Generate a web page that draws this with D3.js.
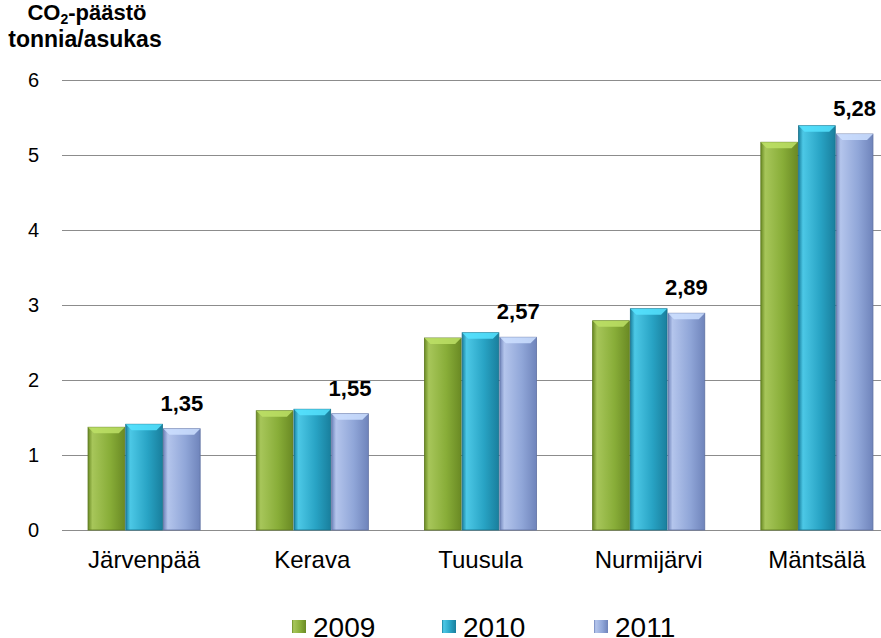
<!DOCTYPE html>
<html>
<head>
<meta charset="utf-8">
<script src="https://cdn.jsdelivr.net/npm/d3@7"></script>
<style>
  body { margin: 0; background: #fff; }
  svg { display: block; font-family: "Liberation Sans", Arial, sans-serif; }
</style>
</head>
<body>
<script>
// data
const towns = ["Järvenpää", "Kerava", "Tuusula", "Nurmijärvi", "Mäntsälä"];
const years = ["2009", "2010", "2011"];
const v2009 = [1.37, 1.59, 2.56, 2.79, 5.17];
const v2010 = [1.41, 1.61, 2.63, 2.95, 5.39];
const v2011 = [1.35, 1.55, 2.57, 2.89, 5.28];
const yTicks = [0, 1, 2, 3, 4, 5, 6];

const w = 881;
const h = 638;

const svg = d3.select("body").append("svg").attr("width", w).attr("height", h);

// gradients for the bevelled bars
const palettes = [
  ["#a7c65a", "#88ad38", "#6a8a24"],
  ["#4cc8e6", "#28a3c4", "#197f9d"],
  ["#b4c5ec", "#90a6d8", "#6f84bb"]
];
const defs = svg.append("defs");
palettes.forEach((p, i) => {
  const g = defs.append("linearGradient").attr("id", "g" + i)
    .attr("x1", "0%").attr("x2", "100%").attr("y1", "0%").attr("y2", "0%");
  g.append("stop").attr("offset", "0%").attr("stop-color", p[2]);
  g.append("stop").attr("offset", "12%").attr("stop-color", p[0]);
  g.append("stop").attr("offset", "60%").attr("stop-color", p[1]);
  g.append("stop").attr("offset", "100%").attr("stop-color", p[2]);
});

const x = d3.scaleBand().domain(towns).range([60, 901]);
const x1 = d3.scaleBand().domain(years).range([0, x.bandwidth()]).paddingOuter(0.73).paddingInner(0);
const y = d3.scaleLinear().domain([0, 6]).range([530, 80]);

// grid
svg.append("g")
  .selectAll("line")
  .data(yTicks)
  .join("line")
  .attr("x1", 62).attr("x2", w)
  .attr("y1", d => y(d) + 0.5).attr("y2", d => y(d) + 0.5)
  .attr("stroke", "#8c8c8c").attr("stroke-width", 1);

// y axis labels
svg.append("g")
  .selectAll("text")
  .data(yTicks)
  .join("text")
  .attr("x", 39).attr("y", d => y(d) + 6.5)
  .attr("text-anchor", "end")
  .attr("font-size", 20)
  .text(d => d);

// title
const title = svg.append("text").attr("x", 87).attr("y", 20)
  .attr("text-anchor", "middle")
  .attr("font-size", 22).attr("font-weight", "bold");
title.append("tspan").text("CO");
title.append("tspan").attr("font-size", 14).attr("dy", 4).text("2");
title.append("tspan").attr("dy", -4).text("-päästö");
svg.append("text").attr("x", 85).attr("y", 47)
  .attr("text-anchor", "middle")
  .attr("font-size", 23).attr("font-weight", "bold").text("tonnia/asukas");

// bars
const series = [v2009, v2010, v2011];
const rows = [];
towns.forEach((t, i) => {
  years.forEach((yr, j) => rows.push({ town: t, year: yr, j: j, value: series[j][i] }));
});

const bars = svg.append("g").selectAll("g").data(rows).join("g")
  .attr("transform", d => "translate(" + (x(d.town) + x1(d.year)) + ",0)");

bars.append("rect")
  .attr("x", 0.5)
  .attr("y", d => y(d.value))
  .attr("width", x1.bandwidth() - 1)
  .attr("height", d => y(0) - y(d.value))
  .attr("fill", d => "url(#g" + d.j + ")")
  .attr("stroke", d => d3.color(palettes[d.j][2]).darker(0.4))
  .attr("stroke-width", 0.8);

// top bevel
bars.append("path")
  .attr("d", d => {
    const bw = x1.bandwidth() - 1;
    const t = y(d.value);
    return "M0.5," + t + "L" + (bw + 0.5) + "," + t + "L" + (bw - 5.5) + "," + (t + 6) + "L6.5," + (t + 6) + "Z";
  })
  .attr("fill", d => d3.color(palettes[d.j][0]).brighter(0.35))
  .attr("opacity", 0.85);

// value labels (2011)
svg.append("g").selectAll("text")
  .data(towns)
  .join("text")
  .attr("x", (d, i) => x(d) + x1("2011") + x1.bandwidth() / 2)
  .attr("y", (d, i) => y(v2011[i]) - 18)
  .attr("text-anchor", "middle")
  .attr("font-size", 22).attr("font-weight", "bold")
  .text((d, i) => v2011[i].toFixed(2).replace(".", ","));

// x labels
svg.append("g").selectAll("text")
  .data(towns)
  .join("text")
  .attr("x", d => x(d) + x.bandwidth() / 2)
  .attr("y", 568)
  .attr("text-anchor", "middle")
  .attr("font-size", 24)
  .text(d => d);

// legend (sits on the bottom edge, as in the original)
const legendX = [292, 442, 594];
const legend = svg.append("g").selectAll("g").data(years).join("g")
  .attr("transform", (d, i) => "translate(" + legendX[i] + ",0)");
legend.append("rect")
  .attr("x", 0).attr("y", 620).attr("width", 14).attr("height", 13)
  .attr("fill", (d, i) => "url(#g" + i + ")");
legend.append("text")
  .attr("x", 21).attr("y", 637)
  .attr("font-size", 28)
  .text(d => d);
</script>
</body>
</html>
